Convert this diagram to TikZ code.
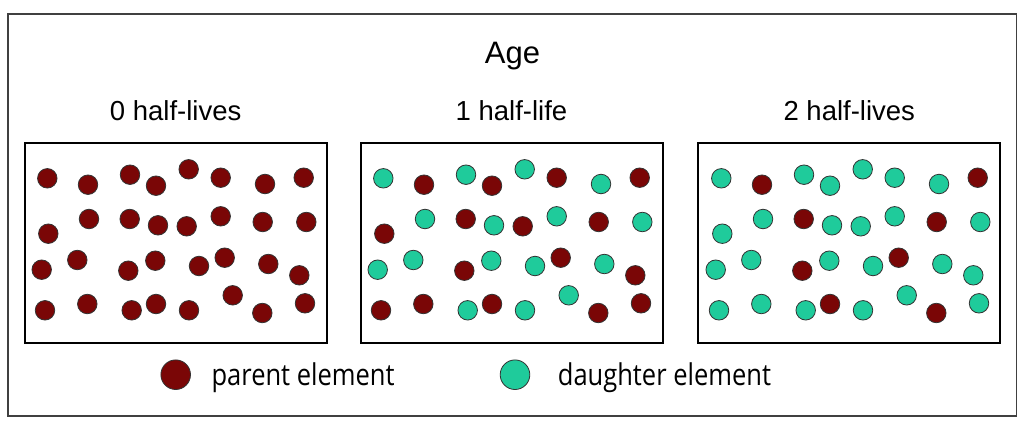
\documentclass[tikz,border=0pt]{standalone}
\usepackage{fontspec}
\setmainfont{Liberation Sans}
\newfontfamily\legfont{Open Sans}
\usetikzlibrary{positioning}
\definecolor{parentred}{HTML}{7A0606}
\definecolor{daughtergreen}{HTML}{1FCB9B}
\tikzset{
	pa/.style={circle, draw=black!80, line width=0.8pt, fill=parentred, minimum size=19.5pt, inner sep=0pt},
	da/.style={pa, fill=daughtergreen},
	panel/.style={draw, line width=2pt, minimum width=302pt, minimum height=200pt, inner sep=0pt},
	heading/.style={font=\fontsize{27.5}{31}\selectfont},
	legtext/.style={font=\legfont\fontsize{30}{34}\selectfont, xscale=0.85, inner sep=0pt}
}

\begin{document}
\begin{tikzpicture}[x=1pt, y=-1pt]
			%%%%% FRAME %%%%%
			\useasboundingbox (0,0) rectangle (1024,428);
			\draw[line width=1.5pt, color=black!75] (8,14) rectangle (1016.5,416);
			
			\node[font=\fontsize{31}{36}\selectfont] (age) at (512.5,56.5) {Age};
			
			\node[panel] (box0) at (175.7,243.3) {};
			\node[panel] (box1) at (511.5,243.3) {};
			\node[panel] (box2) at (849.3,243.3) {};
			
			\node[heading] (hl0) at (175.7,110.7) {0 half-lives};
			\node[heading] (hl1) at (511.5,110.7) {1 half-life};
			\node[heading] (hl2) at (849.3,110.7) {2 half-lives};
			
			%%%%% DOTS: x / y / after 1 / after 2 %%%%%
			\foreach \x/\y/\b/\c [count=\i] in {
				47.3/178.3/da/da, 88/184.7/pa/pa, 130/174.7/da/da, 156/185.7/pa/da,
				188.7/169.3/da/da, 220.7/177.7/pa/da, 265/184/da/da, 303.7/177.7/pa/pa,
				48.3/233.7/pa/da, 89/219/da/da, 129.7/219/pa/pa, 158/225.3/da/da,
				186.7/226.3/pa/da, 220.7/216.3/da/da, 262.7/222/pa/pa, 306.3/222/da/da,
				41.7/269.7/da/da, 77.3/260/da/da, 128.3/270.7/pa/pa, 155.3/260.7/da/da,
				199/266/da/da, 224.7/257.7/pa/pa, 268.3/264/da/da, 299.3/275.3/pa/da,
				45/310.3/pa/da, 87.3/304/pa/da, 131.7/310.3/da/da, 156/304/pa/pa,
				189/310.3/da/da, 232.7/295.3/da/da, 262.3/313/pa/pa, 305/303.3/pa/da}
			{
				\node[pa] (a\i) at (\x,\y) {};
				\node[\b] (b\i) at (\x+336,\y) {};
				\node[\c] (c\i) at (\x+674,\y) {};
			}
			
			%%%%% LEGEND %%%%%
			\node[pa, minimum size=29.6pt] (keyp) at (175.7,374.7) {};
			\node[legtext, right=20.5pt of keyp, yshift=-3pt] (keyptext) {parent element};
			\node[da, minimum size=29.6pt] (keyd) at (515,374.7) {};
			\node[legtext, right=27.5pt of keyd, yshift=-3pt] (keydtext) {daughter element};
\end{tikzpicture}
\end{document}
